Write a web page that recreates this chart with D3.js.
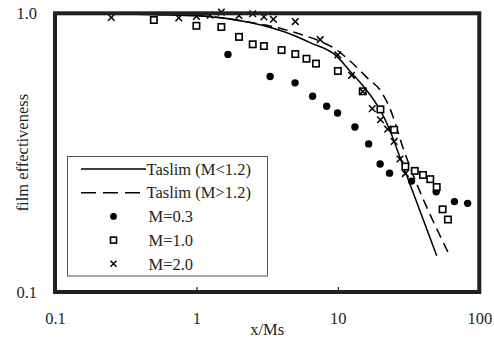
<!DOCTYPE html>
<html>
<head>
<meta charset="utf-8">
<script src="https://cdn.jsdelivr.net/npm/d3@7"></script>
<style>
  body { margin: 0; background: #fff; }
  text { font-family: "Liberation Serif", "Times New Roman", serif; font-size: 16.5px; fill: #231f20; }
  .frame { fill: none; stroke: #231f20; stroke-width: 4; }
  .axis path { display: none; }
  .axis line { stroke: #231f20; stroke-width: 1.2; }
  .legend-box { fill: #fff; stroke: #555; stroke-width: 1; }
</style>
</head>
<body>
<div id="chart"></div>
<script>

// data (x/Ms, film effectiveness)
var m03X = [1.67, 3.32, 4.98, 6.63, 8.33, 9.95, 13.2, 16.5, 19.9, 23.2, 33.2, 49.6, 66.7, 82.7];
var m03Y = [0.712, 0.593, 0.563, 0.504, 0.464, 0.439, 0.391, 0.340, 0.288, 0.267, 0.250, 0.229, 0.211, 0.208];

var m10X = [0.5, 1.0, 1.5, 2.0, 2.5, 3.0, 4.0, 5.0, 6.0, 7.0, 10, 15, 20, 25, 30, 35, 40, 45, 50, 55, 60];
var m10Y = [0.946, 0.902, 0.893, 0.823, 0.774, 0.763, 0.738, 0.714, 0.687, 0.660, 0.621, 0.525, 0.452, 0.382, 0.282, 0.272, 0.263, 0.254, 0.238, 0.198, 0.182];

var m20X = [0.25, 0.75, 1.0, 1.25, 1.5, 2.0, 2.5, 3.0, 3.5, 5.0, 7.5, 10, 12.5, 15, 17.5, 20, 22.5, 25, 27.5, 30];
var m20Y = [0.966, 0.963, 0.975, 0.984, 1.01, 0.981, 0.996, 0.971, 0.952, 0.934, 0.804, 0.709, 0.599, 0.524, 0.455, 0.415, 0.384, 0.347, 0.300, 0.266];

var taslimLowX = [0.1, 0.5, 1.2, 2.4, 5, 6.35, 9.8, 12.2, 15.5, 19.8, 23.2, 27.3, 50];
var taslimLowY = [1.0, 0.988, 0.973, 0.926, 0.829, 0.785, 0.702, 0.620, 0.540, 0.452, 0.383, 0.307, 0.135];

var taslimHighX = [0.1, 0.77, 1.88, 2.73, 3.78, 5.31, 7.23, 9.68, 12.2, 16.0, 20.3, 23.2, 29.2, 60.5];
var taslimHighY = [1.0, 0.99, 0.948, 0.917, 0.887, 0.844, 0.80, 0.742, 0.674, 0.589, 0.522, 0.459, 0.324, 0.138];

var xTicks = [0.1, 1, 10, 100];
var xTickLabels = ["0.1", "1", "10", "100"];
var yTicks = [0.1, 1];
var yTickLabels = ["0.1", "1.0"];

var legendLabels = ["Taslim (M<1.2)", "Taslim (M>1.2)", "M=0.3", "M=1.0", "M=2.0"];

window.onload = function(){
  makeChart()
};

function zip(xs, ys){
  return xs.map(function(d, i){ return [d, ys[i]]; });
}

function makeChart(){
  var outerWidth = 494,
      outerHeight = 341,
      margin = {top: 13.3, right: 14.7, bottom: 49, left: 55},
      width = outerWidth - margin.left - margin.right,
      height = outerHeight - margin.top - margin.bottom;

  var x = d3.scaleLog()
      .domain([0.1, 100])
      .range([0, width]);

  var y = d3.scaleLog()
      .domain([0.1, 1])
      .range([height, 0]);

  var svg = d3.select("#chart").append("svg")
      .attr("width", outerWidth)
      .attr("height", outerHeight);

  var g = svg.append("g")
      .attr("transform", "translate(" + margin.left + "," + margin.top + ")");

  var xAxis = d3.axisBottom(x)
      .tickValues(xTicks)
      .tickSize(-5)
      .tickPadding(20)
      .tickFormat(function(d, i){ return xTickLabels[i]; });

  var yAxis = d3.axisLeft(y)
      .tickValues(yTicks)
      .tickSize(0)
      .tickPadding(18)
      .tickFormat(function(d, i){ return yTickLabels[i]; });

  g.append("g")
      .attr("class", "x axis")
      .attr("transform", "translate(0," + height + ")")
      .call(xAxis);

  g.append("g")
      .attr("class", "y axis")
      .call(yAxis);

  g.selectAll(".axis text")
      .attr("fill", "#231f20")
      .style("font-size", "16.5px");

  // lines
  var line = d3.line()
      .x(function(d){ return x(d[0]); })
      .y(function(d){ return y(d[1]); })
      .curve(d3.curveMonotoneX);

  g.append("path")
      .datum(zip(taslimLowX, taslimLowY))
      .attr("d", line)
      .attr("fill", "none")
      .attr("stroke", "#000")
      .attr("stroke-width", 1.5);

  g.append("path")
      .datum(zip(taslimHighX, taslimHighY))
      .attr("d", line)
      .attr("fill", "none")
      .attr("stroke", "#000")
      .attr("stroke-width", 1.5)
      .attr("stroke-dasharray", "10,6");

  // markers
  g.selectAll(".m03")
      .data(zip(m03X, m03Y))
    .enter().append("circle")
      .attr("class", "m03")
      .attr("cx", function(d){ return x(d[0]); })
      .attr("cy", function(d){ return y(d[1]); })
      .attr("r", 3.7)
      .attr("fill", "#000");

  g.selectAll(".m10")
      .data(zip(m10X, m10Y))
    .enter().append("rect")
      .attr("class", "m10")
      .attr("x", function(d){ return x(d[0]) - 3.2; })
      .attr("y", function(d){ return y(d[1]) - 3.2; })
      .attr("width", 6.4)
      .attr("height", 6.4)
      .attr("fill", "#fff")
      .attr("stroke", "#000")
      .attr("stroke-width", 1.6);

  var cross = "M-3.3,-3.3L3.3,3.3M-3.3,3.3L3.3,-3.3";

  g.selectAll(".m20")
      .data(zip(m20X, m20Y))
    .enter().append("path")
      .attr("class", "m20")
      .attr("transform", function(d){ return "translate(" + x(d[0]) + "," + y(d[1]) + ")"; })
      .attr("d", cross)
      .attr("fill", "none")
      .attr("stroke", "#000")
      .attr("stroke-width", 1.5);

  // frame
  g.append("rect")
      .attr("class", "frame")
      .attr("width", width)
      .attr("height", height);

  // legend
  var lg = g.append("g")
      .attr("transform", "translate(" + (67.5 - margin.left) + "," + (156.5 - margin.top) + ")");

  lg.append("rect")
      .attr("class", "legend-box")
      .attr("width", 200)
      .attr("height", 119.5);

  var rowY = function(i){ return 12.5 + i * 23.7; };

  lg.append("line")
      .attr("x1", 13.5).attr("x2", 78.5)
      .attr("y1", rowY(0)).attr("y2", rowY(0))
      .attr("stroke", "#000")
      .attr("stroke-width", 1.5);

  lg.append("line")
      .attr("x1", 13.5).attr("x2", 78.5)
      .attr("y1", rowY(1)).attr("y2", rowY(1))
      .attr("stroke", "#000")
      .attr("stroke-width", 1.5)
      .attr("stroke-dasharray", "15,7");

  lg.append("circle")
      .attr("cx", 46).attr("cy", rowY(2))
      .attr("r", 3.4)
      .attr("fill", "#000");

  lg.append("rect")
      .attr("x", 46 - 3).attr("y", rowY(3) - 3)
      .attr("width", 6).attr("height", 6)
      .attr("fill", "#fff")
      .attr("stroke", "#000")
      .attr("stroke-width", 1.6);

  lg.append("path")
      .attr("transform", "translate(46," + rowY(4) + ")")
      .attr("d", "M-3,-3L3,3M-3,3L3,-3")
      .attr("stroke", "#000")
      .attr("stroke-width", 1.5);

  lg.selectAll(".legend-label")
      .data(legendLabels)
    .enter().append("text")
      .attr("class", "legend-label")
      .attr("x", function(d, i){ return i < 2 ? 79 : 81; })
      .attr("y", function(d, i){ return rowY(i); })
      .attr("dy", "0.35em")
      .text(function(d){ return d; });

  // axis titles
  svg.append("text")
      .attr("x", margin.left + width / 2)
      .attr("y", 335)
      .attr("text-anchor", "middle")
      .text("x/Ms");

  svg.append("text")
      .attr("transform", "rotate(-90)")
      .attr("x", -(margin.top + height / 2))
      .attr("y", 22)
      .attr("dy", "0.35em")
      .attr("text-anchor", "middle")
      .text("film effectiveness");
};
</script>
</body>
</html>
